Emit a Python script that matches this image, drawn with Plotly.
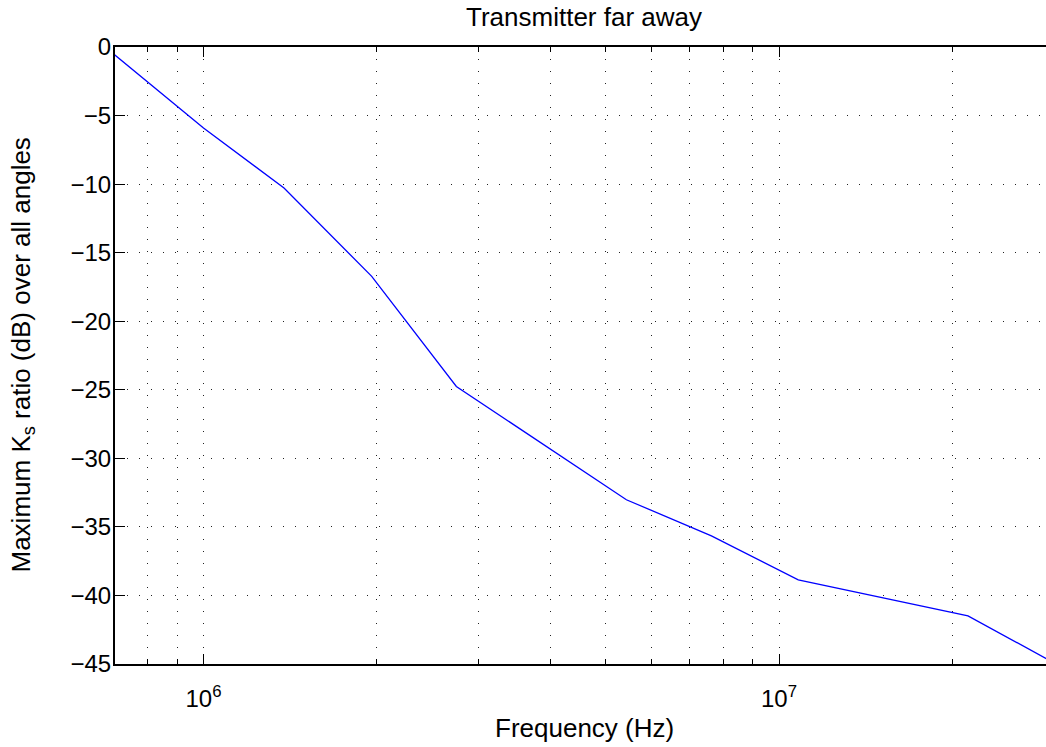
import numpy as np
import plotly.graph_objects as go

# Data
freq_hz = [7.0e5, 1.0e6, 1.38e6, 1.96e6, 2.75e6, 3.89e6, 5.43e6, 7.63e6, 1.08e7, 2.13e7, 3.0e7]
ks_ratio_db = [-0.56, -5.91, -10.28, -16.73, -24.76, -28.95, -33.02, -35.65, -38.86, -41.49, -44.9]

y_ticks = [0, -5, -10, -15, -20, -25, -30, -35, -40, -45]
x_major = [1e6, 1e7]
x_major_text = ["10<sup>6</sup>", "10<sup>7</sup>"]
x_minor = [8e5, 9e5] + [k * 1e6 for k in range(2, 10)] + [2e7, 3e7]

title_text = "Transmitter far away"
x_title = "Frequency (Hz)"
y_title = "Maximum K<sub>s</sub> ratio (dB) over all angles"

W, H = 1046, 747
L, R, T, B = 115, 0, 47, 83
FONT = "Liberation Sans, Arial, Helvetica, sans-serif"
DOT = "1px,11px"

fig = go.Figure()
fig.add_trace(go.Scatter(x=freq_hz, y=ks_ratio_db, mode="lines",
                         line=dict(color="#0000ff", width=1.3), showlegend=False))

x_left = 5.8462
x_right = x_left + (W - L - R) / 575.5

fig.update_layout(
    width=W, height=H,
    margin=dict(l=L, r=R, t=T, b=B, pad=0),
    paper_bgcolor="white", plot_bgcolor="white",
    font=dict(family=FONT, size=24, color="black"),
    xaxis=dict(
        type="log", range=[x_left, x_right],
        tickmode="array", tickvals=x_major, ticktext=x_major_text,
        ticks="inside", ticklen=10, tickwidth=1, tickcolor="black",
        showline=True, linecolor="black", linewidth=2, mirror="allticks",
        showgrid=True, gridcolor="#222222", gridwidth=1, griddash=DOT,
        zeroline=False,
        tickfont=dict(size=24),
        ticklabelstandoff=12,
        minor=dict(tickmode="array", tickvals=x_minor, ticks="inside", ticklen=5,
                   tickcolor="black", tickwidth=1, showgrid=True,
                   gridcolor="#222222", gridwidth=1, griddash=DOT),
    ),
    yaxis=dict(
        range=[-45, 0], tickmode="array", tickvals=y_ticks,
        ticks="inside", ticklen=10, tickwidth=1, tickcolor="black",
        showline=True, linecolor="black", linewidth=2, mirror=False,
        showgrid=True, gridcolor="#222222", gridwidth=1, griddash=DOT,
        zeroline=False, tickfont=dict(size=24),
        ticklabelstandoff=-3,
    ),
)

plot_w = W - L - R
plot_h = H - T - B
fig.add_annotation(text=title_text, xref="paper", yref="paper",
                   x=(584 - L) / plot_w, y=1 + (T - 17) / plot_h,
                   xanchor="center", yanchor="middle", showarrow=False,
                   font=dict(family=FONT, size=26, color="black"))
fig.add_annotation(text=x_title, xref="paper", yref="paper",
                   x=(584 - L) / plot_w, y=-(728 - (H - B)) / plot_h,
                   xanchor="center", yanchor="middle", showarrow=False,
                   font=dict(family=FONT, size=26, color="black"))
fig.add_annotation(text=y_title, xref="paper", yref="paper",
                   x=(22 - L) / plot_w, y=0.5, textangle=-90,
                   xanchor="center", yanchor="middle", showarrow=False,
                   font=dict(family=FONT, size=26, color="black"))

fig.write_html("out.html")
